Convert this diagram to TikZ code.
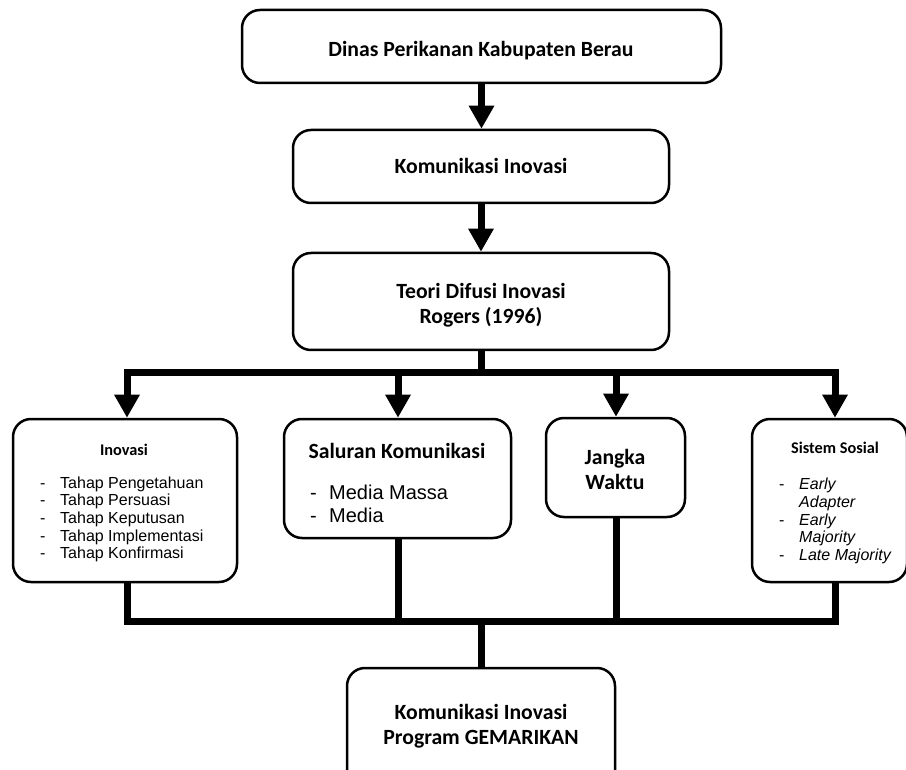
\documentclass[tikz,border=0pt]{standalone}
\usepackage{fontspec}
\setmainfont{Carlito}
\newfontfamily\arialf{Liberation Sans}
\usetikzlibrary{arrows.meta}
\begin{document}
\begin{tikzpicture}[x=1pt,y=-1pt,
  box/.style={draw, line width=2.5pt, rounded corners=18pt, inner sep=0pt, fill=white},
  conn/.style={line width=7pt},
  arr/.style={line width=7pt, -{Triangle[length=23pt,width=24pt]}},
  ttl/.style={font=\fontsize{21.7}{25}\selectfont\bfseries, anchor=base, inner sep=0pt},
  sttl/.style={font=\fontsize{16.3}{19}\selectfont\bfseries, anchor=base, inner sep=0pt},
  lst/.style={font=\arialf\fontsize{16}{17.7}\selectfont, anchor=base west, inner sep=0pt},
  lstb/.style={font=\arialf\fontsize{20}{23}\selectfont, anchor=base west, inner sep=0pt},
  lsts/.style={font=\arialf\fontsize{16}{18}\selectfont, anchor=base west, inner sep=0pt}]
\useasboundingbox (0,0) rectangle (906,770);

% boxes
\node[box, minimum width=479pt, minimum height=73pt] (top) at (481.5,46.5) {};
\node[box, minimum width=376pt, minimum height=73pt] (kom) at (481,166.5) {};
\node[box, minimum width=376pt, minimum height=97pt] (teori) at (481,301.5) {};
\node[box, minimum width=224pt, minimum height=163pt] (inov) at (125,500.5) {};
\node[box, minimum width=227pt, minimum height=119pt] (salur) at (397.5,478.5) {};
\node[box, minimum width=139pt, minimum height=99pt] (jangka) at (615.5,467.5) {};
\node[box, minimum width=155pt, minimum height=163pt] (sistem) at (829.5,500.5) {};
\node[box, minimum width=268pt, minimum height=132pt] (bottom) at (481,734) {};

% column coordinates
\coordinate (t1) at (127,373);
\coordinate (t2) at (398,373);
\coordinate (t3) at (616,373);
\coordinate (t4) at (835,373);
\coordinate (b1) at (127,621);
\coordinate (b2) at (398,621);
\coordinate (b3) at (616,621);
\coordinate (b4) at (835,621);

% connectors
\draw[arr] (top.south) -- (top.south |- kom.north);
\draw[arr] (kom.south) -- (teori.north);
\draw[conn] (teori.south) -- (teori.south |- t1);
\draw[conn, line cap=rect] (t1) -- (t4);
\draw[arr] (t1) -- (t1 |- inov.north);
\draw[arr] (t2) -- (t2 |- salur.north);
\draw[arr] (t3) -- (t3 |- jangka.north);
\draw[arr] (t4) -- (t4 |- sistem.north);
\draw[conn, line join=miter] (b1 |- inov.south) -- (b1) -- (b4) -- (b4 |- sistem.south);
\draw[conn] (b2 |- salur.south) -- (b2);
\draw[conn] (b3 |- jangka.south) -- (b3);
\draw[conn] (bottom.north |- b1) -- (bottom.north);

% texts
\node[ttl] (ttop) at (481,57) {Dinas Perikanan Kabupaten Berau};
\node[ttl] (tkom) at (481,174) {Komunikasi Inovasi};
\node[ttl] (tteori) at (481,299) {\begin{tabular}[t]{@{}c@{}}Teori Difusi Inovasi\\Rogers (1996)\end{tabular}};
\node[sttl] (tinov) at (124,455) {Inovasi};
\node[lst] (linov) at (40,488) {\begin{tabular}[t]{@{}p{20pt}@{}l@{}}-&Tahap Pengetahuan\\-&Tahap Persuasi\\-&Tahap Keputusan\\-&Tahap Implementasi\\-&Tahap Konfirmasi\end{tabular}};
\node[ttl] (tsalur) at (397,458) {Saluran Komunikasi};
\node[lstb] (lsalur) at (310,499) {\begin{tabular}[t]{@{}p{19pt}@{}l@{}}-&Media Massa\\-&Media\end{tabular}};
\node[ttl] (tjangka) at (615,464) {\begin{tabular}[t]{@{}c@{}}Jangka\\Waktu\end{tabular}};
\node[sttl] (tsistem) at (835,453) {Sistem Sosial};
\node[lsts] (lsistem) at (779,489) {\begin{tabular}[t]{@{}p{20pt}@{}l@{}}-&\textit{Early}\\&\textit{Adapter}\\-&\textit{Early}\\&\textit{Majority}\\-&\textit{Late Majority}\end{tabular}};
\node[ttl] (tbottom) at (481,719) {\begin{tabular}[t]{@{}c@{}}Komunikasi Inovasi\\Program GEMARIKAN\end{tabular}};
\end{tikzpicture}
\end{document}
